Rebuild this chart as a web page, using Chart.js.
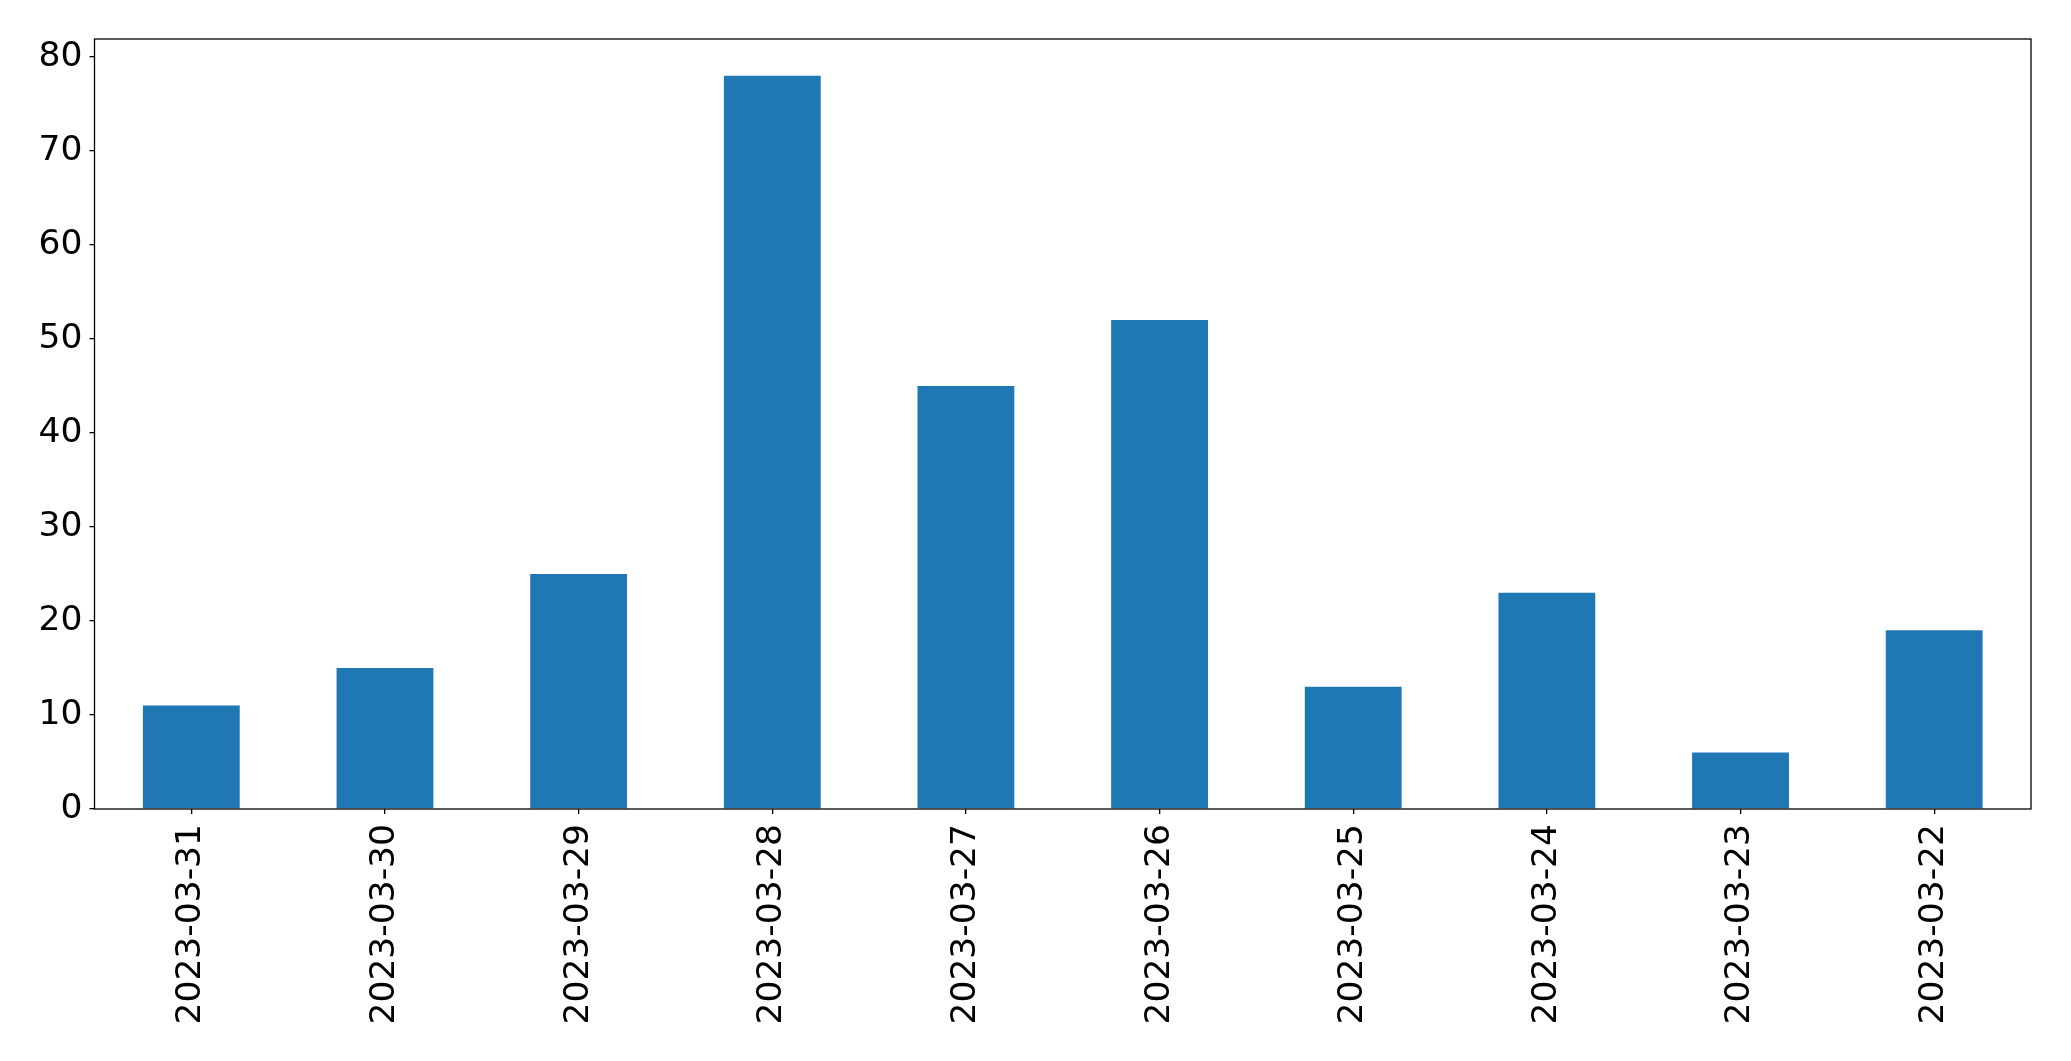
<!DOCTYPE html>
<html>
<head>
<meta charset="utf-8">
<script src="https://cdn.jsdelivr.net/npm/chart.js@4.4.0/dist/chart.umd.min.js"></script>
<style>
html,body{margin:0;padding:0;background:#fff;}
#wrap{width:2071px;height:1061px;position:relative;}
</style>
</head>
<body>
<div id="wrap"><canvas id="c" width="2071" height="1061"></canvas></div>
<script>
const categories = ["2023-03-31","2023-03-30","2023-03-29","2023-03-28","2023-03-27","2023-03-26","2023-03-25","2023-03-24","2023-03-23","2023-03-22"];
const values = [11, 15, 25, 78, 45, 52, 13, 23, 6, 19];
const yTicks = [0, 10, 20, 30, 40, 50, 60, 70, 80];

const FONT = {family: "'DejaVu Sans'", size: 34.5};

const frame = {
  id: 'frame',
  afterDraw(chart) {
    const a = chart.chartArea, ctx = chart.ctx;
    ctx.save();
    ctx.strokeStyle = '#000';
    ctx.lineWidth = 1.3;
    ctx.strokeRect(a.left, a.top, a.right - a.left, a.bottom - a.top);
    ctx.restore();
  }
};

new Chart(document.getElementById('c'), {
  type: 'bar',
  data: {
    labels: categories,
    datasets: [{
      data: values,
      backgroundColor: '#1f77b4',
      borderWidth: 0,
      barPercentage: 0.5,
      categoryPercentage: 1.0
    }]
  },
  options: {
    responsive: false,
    animation: false,
    layout: {padding: {left: 0, right: 40, top: 39, bottom: 0}},
    plugins: {legend: {display: false}, tooltip: {enabled: false}},
    scales: {
      x: {
        offset: true,
        grid: {display: true, drawOnChartArea: false, color: '#000', lineWidth: 1.3, tickLength: 5, offset: false},
        border: {display: false},
        ticks: {color: '#000', font: FONT, maxRotation: 90, minRotation: 90, padding: 10, autoSkip: false},
        afterFit(s) { s.height = 252; }
      },
      y: {
        min: 0,
        max: 81.9,
        grid: {display: true, drawOnChartArea: false, color: '#000', lineWidth: 1.3, tickLength: 5},
        border: {display: false},
        ticks: {color: '#000', font: FONT, stepSize: 10, includeBounds: false, padding: 7},
        afterBuildTicks(s) { s.ticks = yTicks.map(v => ({value: v})); },
        afterFit(s) { s.width = 94.5; }
      }
    }
  },
  plugins: [frame]
});
</script>
</body>
</html>
